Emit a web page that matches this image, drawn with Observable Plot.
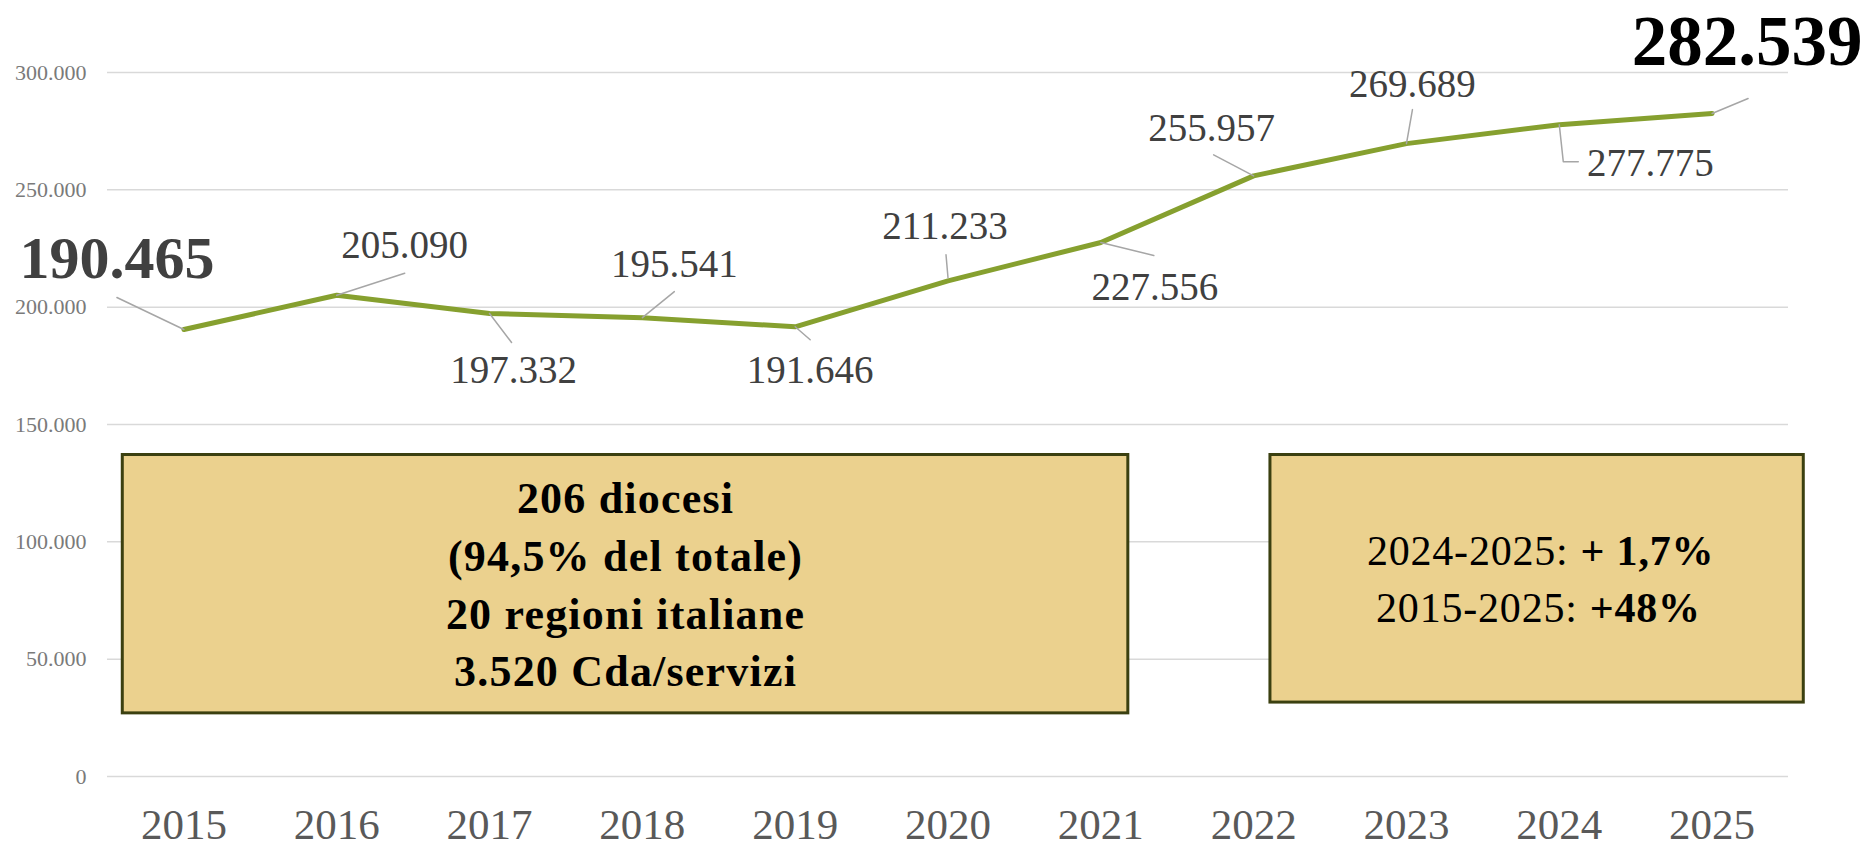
<!DOCTYPE html>
<html><head><meta charset="utf-8">
<script src="https://cdn.jsdelivr.net/npm/d3@7"></script>
<script src="https://cdn.jsdelivr.net/npm/@observablehq/plot@0.6"></script>
<style>html,body{margin:0;padding:0;background:#fff}</style>
</head><body><div id="chart"></div>
<script>
// ---- data ----
const years = [2015, 2016, 2017, 2018, 2019, 2020, 2021, 2022, 2023, 2024, 2025];
const values = [190465, 205090, 197332, 195541, 191646, 211233, 227556, 255957, 269689, 277775, 282539];
const yTicks = [0, 50000, 100000, 150000, 200000, 250000, 300000];
const xTicks = years;
const boxTextLeft = ["206 diocesi", "(94,5% del totale)", "20 regioni italiane", "3.520 Cda/servizi"];
const boxRightLabels = ["2024-2025:", "2015-2025:"];
const boxRightValues = ["+ 1,7%", "+48%"];

// ---- layout (label placement, annotation boxes) ----
const W = 1867, H = 849, mL = 107, mR = 79, mT = 72, mB = 73;
const labelDx = [-67, 68, 24, 32, 15, -3, 54, -42, 6, 91, 35];
const labelDy = [-52, -37, 70, -41, 56, -42, 57, -35, -47, 51, -48];
const leaderPaths = [
  [[0, 0], [-67, -32]],
  [[0, 0], [68, -22]],
  [[0, 0], [22, 29]],
  [[0, 0], [32, -26]],
  [[0, 0], [15, 13]],
  [[0, -3], [-2, -26]],
  [[0, 0], [53, 13]],
  [[0, 0], [-40, -21]],
  [[0, 0], [6, -34]],
  [[0, 0], [4, 37], [19, 37]],
  [[0, 0], [36, -15]]
];
const boxes = [
  {x1: 2014.6, x2: 2021.18, y1: 26900, y2: 137000},
  {x1: 2022.11, x2: 2025.6, y1: 31500, y2: 137000}
];
const leftTextY = 38500;
const rightLineY = [90080, 65910];
const rightSplitX = [2024.10, 2024.16];

const xDomain = [2014.5, 2025.5], yDomain = [0, 300000];
const xs = d3.scaleLinear(xDomain, [mL, W - mR]);
const ys = d3.scaleLinear(yDomain, [H - mB, mT]);
const fmt = d => d3.format(",")(d).replace(/,/g, ".");

const series = years.map((year, i) => ({year, value: values[i]}));
const labels = series.map((d, i) => ({
  i, text: fmt(d.value),
  x: xs.invert(xs(d.year) + labelDx[i]),
  y: ys.invert(ys(d.value) + labelDy[i])
}));
const leaders = series.flatMap((d, i) => leaderPaths[i].map(([dx, dy]) => ({
  k: i, x: xs.invert(xs(d.year) + dx), y: ys.invert(ys(d.value) + dy)
})));
const rightText = boxRightLabels.map((t, i) => ({t, v: boxRightValues[i], x: rightSplitX[i], y: rightLineY[i]}));

const font = "Liberation Serif";
const plot = Plot.plot({
  width: W, height: H,
  marginLeft: mL, marginRight: mR, marginTop: mT, marginBottom: mB,
  style: {fontFamily: font, background: "#fff", overflow: "visible"},
  x: {type: "linear", domain: xDomain},
  y: {domain: yDomain},
  marks: [
    Plot.gridY(yTicks, {stroke: "#d9d9d9", strokeOpacity: 1, strokeWidth: 1.5}),
    Plot.axisY(yTicks, {tickSize: 0, tickPadding: 21, fontSize: 22, fill: "#7a7a7a", tickFormat: fmt, label: null}),
    Plot.axisX(xTicks, {tickSize: 0, tickPadding: 32, fontSize: 43, fill: "#595959", tickFormat: d => String(d), label: null}),
    Plot.rect(boxes, {x1: "x1", x2: "x2", y1: "y1", y2: "y2", fill: "#ebd18e", stroke: "#3b4010", strokeWidth: 3}),
    Plot.text([boxTextLeft.join("\n")], {
      x: (boxes[0].x1 + boxes[0].x2) / 2, y: leftTextY, text: d => d,
      lineAnchor: "bottom", lineHeight: 1.31, fontSize: 44, fontWeight: "bold", fill: "#000"
    }),
    Plot.text(rightText, {x: "x", y: "y", text: "t", textAnchor: "end", dx: -6, lineAnchor: "bottom", fontSize: 42, fill: "#000"}),
    Plot.text(rightText, {x: "x", y: "y", text: "v", textAnchor: "start", dx: 6, lineAnchor: "bottom", fontSize: 42, fontWeight: "bold", fill: "#000"}),
    Plot.line(series, {x: "year", y: "value", stroke: "#86a02f", strokeWidth: 5, strokeLinejoin: "round"}),
    Plot.line(leaders, {x: "x", y: "y", z: "k", stroke: "#a6a6a6", strokeWidth: 1.5}),
    Plot.text(labels.filter(d => d.i > 0 && d.i < years.length - 1), {x: "x", y: "y", text: "text", lineAnchor: "bottom", fontSize: 39, fill: "#404040"}),
    Plot.text(labels.filter(d => d.i === 0), {x: "x", y: "y", text: "text", lineAnchor: "bottom", fontSize: 60, fontWeight: "bold", fill: "#404040"}),
    Plot.text(labels.filter(d => d.i === years.length - 1), {x: "x", y: "y", text: "text", lineAnchor: "bottom", fontSize: 71, fontWeight: "bold", fill: "#000"})
  ]
});
// Garamond-like wider setting for the annotation texts
plot.querySelectorAll("text").forEach(t => {
  const s = t.textContent;
  if (boxTextLeft.some(b => s.includes(b))) t.style.letterSpacing = "1.2px";
  if (boxRightLabels.includes(s) || boxRightValues.includes(s)) t.style.letterSpacing = "0.8px";
});
document.getElementById("chart").appendChild(plot);
</script>
</body></html>
